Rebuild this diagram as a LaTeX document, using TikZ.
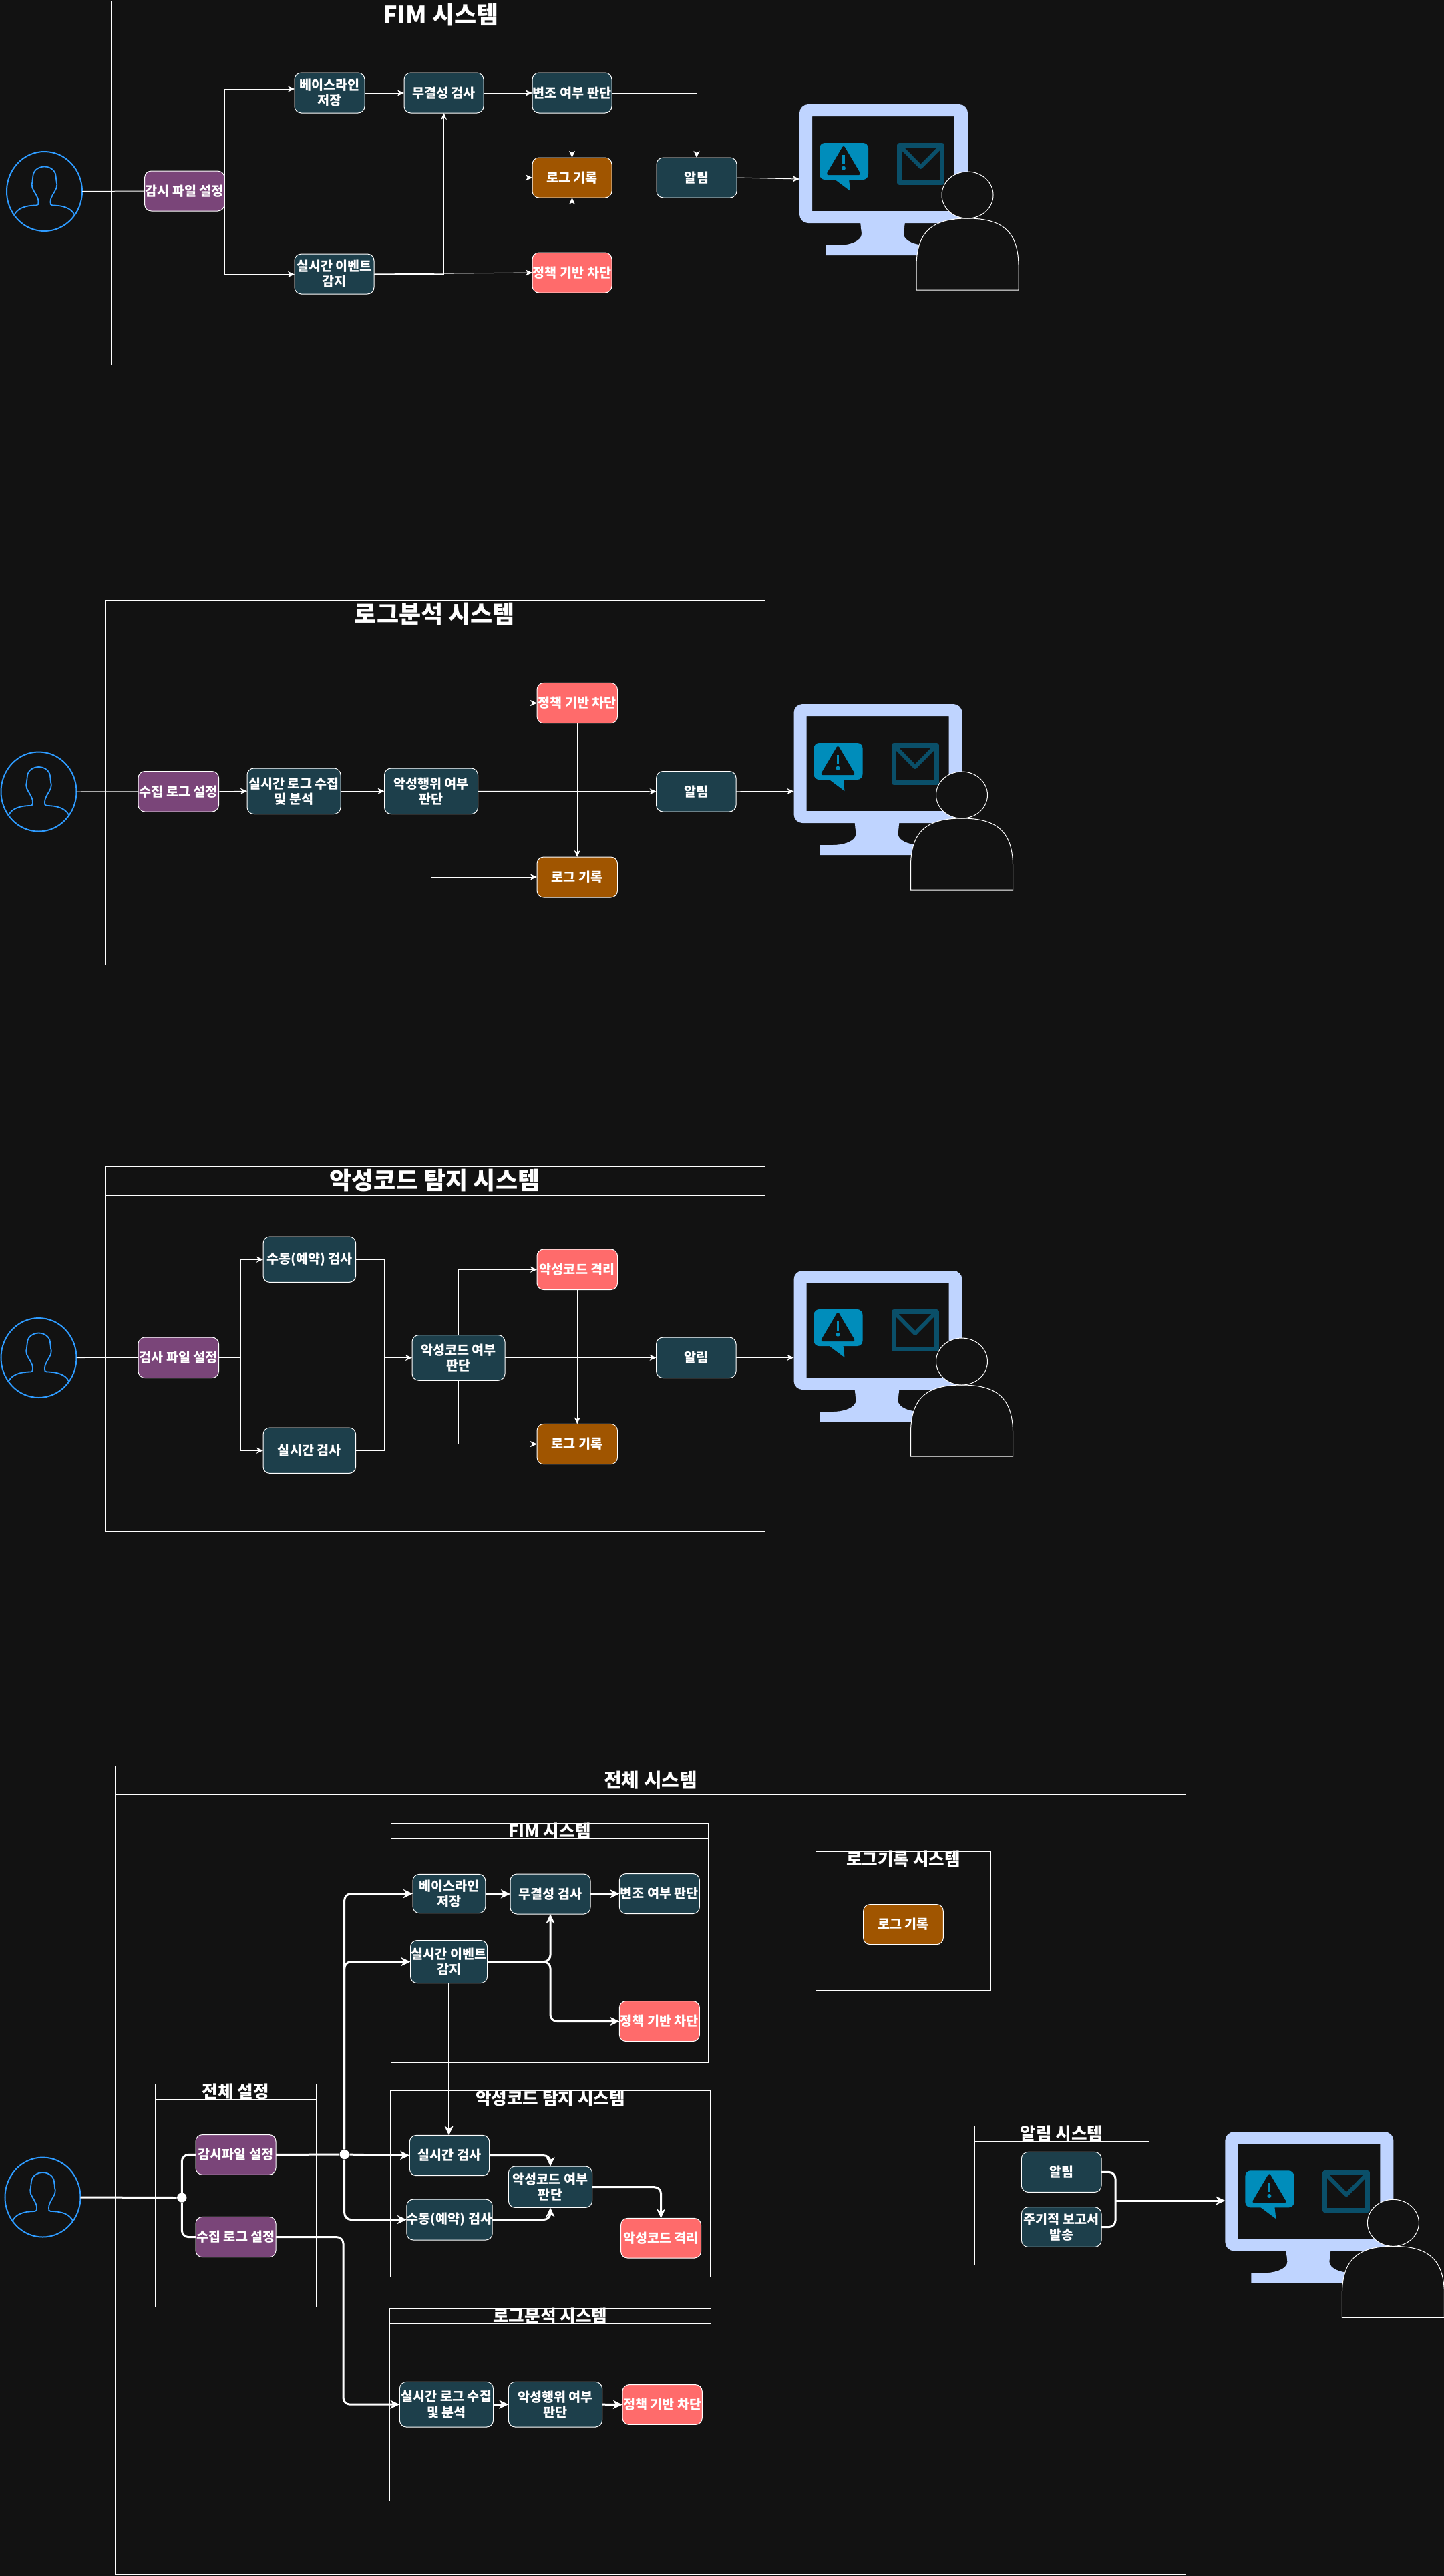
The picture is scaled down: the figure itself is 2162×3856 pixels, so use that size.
\documentclass[tikz,border=0pt]{standalone}
\usepackage{fontspec}
\setmainfont{Noto Sans CJK KR}
\usetikzlibrary{arrows.meta,shapes.geometric,calc}
\definecolor{bgc}{HTML}{121212}
\definecolor{tealc}{HTML}{1D3F4B}
\definecolor{purplec}{HTML}{7A4579}
\definecolor{orangec}{HTML}{A05500}
\definecolor{redc}{HTML}{FF6B6B}
\definecolor{monc}{HTML}{BFD4FF}
\definecolor{alertc}{HTML}{008DBB}
\definecolor{envc}{HTML}{0A4F69}
\definecolor{userc}{HTML}{2E9BFF}
\tikzset{
  bx/.style={draw=white,line width=0.5pt,rounded corners=5pt,inner sep=0pt,outer sep=0pt,text=white,align=center,font=\fontsize{9.8}{11.6}\selectfont\bfseries},
  tealbox/.style={bx,fill=tealc},
  purplebox/.style={bx,fill=purplec},
  orangebox/.style={bx,fill=orangec},
  redbox/.style={bx,fill=redc},
  frm/.style={draw=white,line width=0.45pt,inner sep=0pt,outer sep=0pt},
  bigt/.style={text=white,inner sep=0pt,font=\fontsize{18}{20}\selectfont\bfseries},
  midt/.style={text=white,inner sep=0pt,font=\fontsize{14.5}{16}\selectfont\bfseries},
  subt/.style={text=white,inner sep=0pt,font=\fontsize{12.8}{14}\selectfont\bfseries},
  flow/.style={draw=white,line width=0.5pt,-{Stealth[length=5pt,width=4.5pt,inset=1.4pt]}},
  plain/.style={draw=white,line width=0.5pt},
  flowb/.style={draw=white,line width=1.5pt,rounded corners=5pt,-{Stealth[length=7pt,width=6.5pt,inset=2pt]}},
  plainb/.style={draw=white,line width=1.5pt,rounded corners=5pt},
  dotn/.style={circle,fill=white,inner sep=0pt,minimum size=7.2pt},
  usern/.style={ellipse,draw=userc,line width=1pt,inner sep=0pt,outer sep=0pt,minimum width=56.5pt,minimum height=59.5pt},
}
\newcommand{\Bx}[7]{\node[#1,minimum width={(#5-#3)*0.5pt},minimum height={(#6-#4)*0.5pt}] (#2) at ({(#3+#5)/2},{(#4+#6)/2}) {#7};}
\newcommand{\Fr}[8]{%
  \node[frm,minimum width={(#5-#2)*0.5pt},minimum height={(#6-#3)*0.5pt}] (#1) at ({(#2+#5)/2},{(#3+#6)/2}) {};
  \draw[frm] (#2,#4) -- (#5,#4);
  \node[#7] (#1t) at ({(#2+#5)/2},{(#3+#4)/2}) {#8};}
\newcommand{\UserN}[3]{%
  \node[usern] (#1) at (#2,#3) {};
  \begin{scope}[shift={(#2,#3)}]
    \draw[userc,line width=0.9pt,line join=round]
      (-45,35) .. controls (-40,25) and (-28,21) .. (-12,21)
      .. controls (-9,21) and (-9,19) .. (-9,16)
      .. controls (-9,8) and (-15,2) .. (-18,-5)
      .. controls (-19,-8) and (-19,-12) .. (-18,-14)
      .. controls (-18,-18) and (-17,-21) .. (-17,-24)
      .. controls (-16,-32) and (-8,-37) .. (0,-37)
      .. controls (8,-37) and (16,-32) .. (17,-24)
      .. controls (17,-21) and (18,-18) .. (18,-14)
      .. controls (19,-12) and (19,-8) .. (18,-5)
      .. controls (15,2) and (9,8) .. (9,16)
      .. controls (9,19) and (9,21) .. (12,21)
      .. controls (28,21) and (40,25) .. (45,35);
  \end{scope}}
\newcommand{\Mon}[2]{%
  \begin{scope}[shift={(#1,#2)}]
    \fill[monc,even odd rule] [rounded corners=6.5pt] (0,0) rectangle (252,178) [sharp corners] (19,18) rectangle (232,160);
    \fill[monc] (91,176) -- (93,194) .. controls (93,205) and (75,211) .. (58,211) -- (39,211) -- (39,226) -- (210,226) -- (210,211) -- (191,211) .. controls (174,211) and (156,205) .. (156,194) -- (158,176) -- cycle;
    \fill[alertc,rounded corners=4pt] (30,58) rectangle (103,113);
    \fill[alertc] (52,112) -- (76,130) -- (74,112) -- cycle;
    \fill[bgc,draw=bgc,line width=2pt,line join=round] (66,65) -- (43,104) -- (89,104) -- cycle;
    \draw[alertc,line width=1.9pt] (66,76) -- (66,90);
    \fill[alertc] (66,95.7) circle (3);
    \draw[envc,line width=3.5pt,line join=round] (149.5,61.5) rectangle (213.5,117.5);
    \draw[envc,line width=3pt,line join=round] (150,62) -- (181.5,94) -- (213,62);
    \fill[bgc,draw=white,line width=0.5pt] (175,278) -- (175,240) .. controls (176,190) and (200,171) .. (251.5,171) .. controls (303,171) and (327,190) .. (328,240) -- (328,278) -- cycle;
    \fill[bgc,draw=white,line width=0.5pt] (251.5,136) ellipse (38.5 and 35);
  \end{scope}}
\begin{document}
\begin{tikzpicture}[x=0.5pt,y=-0.5pt]
\useasboundingbox (0,0) rectangle (2162,3856);
\fill[bgc] (0,0) rectangle (2162,3856);

% ===== FIM
\Fr{fa}{166}{1}{43}{1154}{546}{bigt}{FIM 시스템}
\UserN{ua}{66.5}{286.5}
\Bx{purplebox}{a1}{216.6}{256}{336}{316}{감시 파일 설정}
\Bx{tealbox}{a2}{441}{109}{546}{169}{베이스라인\\저장}
\Bx{tealbox}{a3}{605}{109}{724}{169}{무결성 검사}
\Bx{tealbox}{a4}{797}{109}{916}{169}{변조 여부 판단}
\Bx{orangebox}{a5}{797}{236}{916}{296}{로그 기록}
\Bx{tealbox}{a6}{983}{236}{1103}{296}{알림}
\Bx{tealbox}{a7}{441}{380}{560}{440}{실시간 이벤트\\감지}
\Bx{redbox}{a8}{797}{378}{916}{438}{정책 기반 차단}
\coordinate (a2in) at (441,133);
\coordinate (a7in) at (441,410.5);
\Mon{1197}{156}
\coordinate (ma) at (1197,268);
\draw[plain] (ua.east) -- (a1.west);
\draw[flow] (a1.east) |- (a2in);
\draw[flow] (a1.east) |- (a7in);
\draw[flow] (a2.east) -- (a3.west);
\draw[flow] (a3.east) -- (a4.west);
\draw[flow] (a4.south) -- (a5.north);
\draw[flow] (a4.east) -| (a6.north);
\draw[flow] (a7.east) -- (a8.west);
\draw[flow] (a7.east) -| (a3.south);
\draw[flow] (a3.south |- a5.west) -- (a5.west);
\draw[flow] (a8.north) -- (a5.south);
\draw[flow] (a6.east) -- (ma);

% ===== log analysis
\Fr{fb}{157}{898}{941}{1145}{1444.6}{bigt}{로그분석 시스템}
\UserN{ub}{58}{1185}
\Bx{purplebox}{b1}{207}{1154.5}{327.5}{1215}{수집 로그 설정}
\Bx{tealbox}{b2}{370}{1150}{510}{1218.5}{실시간 로그 수집\\및 분석}
\Bx{tealbox}{b3}{575.5}{1150}{715.5}{1218.5}{악성행위 여부\\판단}
\Bx{redbox}{b4}{804}{1022.4}{924.5}{1082.7}{정책 기반 차단}
\Bx{orangebox}{b5}{804}{1283}{924.5}{1343}{로그 기록}
\Bx{tealbox}{b6}{982.6}{1154.5}{1102}{1215}{알림}
\Mon{1188.5}{1054}
\coordinate (mb) at (1188.5,1184.5);
\draw[plain] (ub.east) -- (b1.west);
\draw[flow] (b1.east) -- (b2.west);
\draw[flow] (b2.east) -- (b3.west);
\draw[flow] (b3.east) -- (b6.west);
\draw[flow] (b3.north) |- (b4.west);
\draw[flow] (b3.south) |- (b5.west);
\draw[flow] (b4.south) -- (b5.north);
\draw[flow] (b6.east) -- (mb);

% ===== malware
\Fr{fc}{157}{1746}{1789}{1145}{2292}{bigt}{악성코드 탐지 시스템}
\UserN{uc}{58}{2032.5}
\Bx{purplebox}{c1}{207}{2002}{327.5}{2062.6}{검사 파일 설정}
\Bx{tealbox}{c2}{394}{1851}{532.6}{1919.4}{수동(예약) 검사}
\Bx{tealbox}{c3}{394}{2137}{532.6}{2205.4}{실시간 검사}
\Bx{tealbox}{c4}{617}{1998.6}{756}{2066.3}{악성코드 여부\\판단}
\Bx{redbox}{c5}{804}{1870}{924.5}{1930.5}{악성코드 격리}
\Bx{orangebox}{c6}{804}{2131.4}{924.5}{2191.7}{로그 기록}
\Bx{tealbox}{c7}{982.6}{2002}{1102}{2062.6}{알림}
\Mon{1188.5}{1902}
\coordinate (mc) at (1188.5,2032.3);
\coordinate (cl) at (360.5,2032.3);
\coordinate (cr) at (575,2032.4);
\draw[plain] (uc.east) -- (c1.west);
\draw[plain] (c1.east) -- (cl);
\draw[flow] (cl) |- (c2.west);
\draw[flow] (cl) |- (c3.west);
\draw[plain] (c2.east) -| (cr);
\draw[plain] (c3.east) -| (cr);
\draw[flow] (cr) -- (c4.west);
\draw[flow] (c4.east) -- (c7.west);
\draw[flow] (c4.north) |- (c5.west);
\draw[flow] (c4.south) |- (c6.west);
\draw[flow] (c5.south) -- (c6.north);
\draw[flow] (c7.east) -- (mc);

% ===== whole system
\Fr{fd}{172.6}{2643}{2686.5}{1775.5}{3853}{midt}{전체 시스템}
\Fr{fe}{585.8}{2729.4}{2752.2}{1060}{3087.4}{subt}{FIM 시스템}
\Fr{ff}{232.7}{3119.3}{3142.4}{473}{3453.4}{subt}{전체 설정}
\Fr{fg}{584.6}{3129.4}{3152}{1063.4}{3408}{subt}{악성코드 탐지 시스템}
\Fr{fh}{583.5}{3455.4}{3478.5}{1064}{3743.2}{subt}{로그분석 시스템}
\Fr{fi}{1221.5}{2771.5}{2794.3}{1483.4}{2979.5}{subt}{로그기록 시스템}
\Fr{fj}{1459}{3182.6}{3205.3}{1720}{3390}{subt}{알림 시스템}
\UserN{ud}{64}{3289}
\Bx{tealbox}{d1}{618}{2805.3}{726.8}{2863.7}{베이스라인\\저장}
\Bx{tealbox}{d2}{764}{2805}{884}{2865}{무결성 검사}
\Bx{tealbox}{d3}{927.4}{2804.5}{1047.4}{2864.5}{변조 여부 판단}
\Bx{tealbox}{d4}{614.5}{2904.5}{729.6}{2968.6}{실시간 이벤트\\감지}
\Bx{redbox}{d5}{927.4}{2995.5}{1047.4}{3055.5}{정책 기반 차단}
\Bx{purplebox}{e1}{293}{3195.5}{413}{3255.3}{감시파일 설정}
\Bx{purplebox}{e2}{293}{3318.4}{413}{3378.7}{수집 로그 설정}
\Bx{tealbox}{g1}{613.3}{3196.4}{732.7}{3256.7}{실시간 검사}
\Bx{tealbox}{g2}{610.5}{3292}{735.6}{3353}{수동(예약) 검사}
\Bx{tealbox}{g3}{761.4}{3243}{886.6}{3304.4}{악성코드 여부\\판단}
\Bx{redbox}{g4}{929.6}{3320.4}{1049.6}{3380}{악성코드 격리}
\Bx{tealbox}{h1}{598.4}{3565.3}{738.5}{3633}{실시간 로그 수집\\및 분석}
\Bx{tealbox}{h2}{761.4}{3565.3}{901.5}{3633}{악성행위 여부\\판단}
\Bx{redbox}{h3}{932}{3569.6}{1051.3}{3629.4}{정책 기반 차단}
\Bx{orangebox}{i1}{1292.6}{2850.5}{1412.3}{2910.6}{로그 기록}
\Bx{tealbox}{j1}{1529.4}{3221.3}{1649}{3281.4}{알림}
\Bx{tealbox}{j2}{1529.4}{3303.7}{1649}{3363.4}{주기적 보고서\\발송}
\Mon{1834.4}{3191.3}
\coordinate (md) at (1834.4,3294);
\coordinate (jn) at (1670,3294);
\coordinate (cv) at (514,3450);
\node[dotn] (p1) at (272.3,3289.5) {};
\node[dotn] (p2) at (515.7,3225) {};
\draw[plainb] (ud.east) -- (p1);
\draw[plainb] (p1) |- (e1.west);
\draw[plainb] (p1) |- (e2.west);
\draw[plainb] (e1.east) -- (p2);
\draw[flowb] (p2) -- (g1.west);
\draw[flowb] (p2) |- (d1.west);
\draw[flowb] (p2) |- (d4.west);
\draw[flowb] (p2) |- (g2.west);
\draw[flowb] (d1.east) -- (d2.west);
\draw[flowb] (d2.east) -- (d3.west);
\draw[flowb] (d4.east) -| (d2.south);
\draw[flowb] (d4.east) -| (d2.south |- d5.west) -- (d5.west);
\draw[flowb,line width=1.2pt] (d4.south) -- (d4.south |- g1.north);
\draw[flowb] (g1.east) -| (g3.north);
\draw[flowb] (g2.east) -| (g3.south);
\draw[flowb] (g3.east) -| (g4.north);
\draw[flowb] (e2.east) -| (cv) |- (h1.west);
\draw[flowb] (h1.east) -- (h2.west);
\draw[flowb] (h2.east) -- (h3.west);
\draw[plainb] (j1.east) -| (jn);
\draw[plainb] (j2.east) -| (jn);
\draw[flowb] (jn) -- (md);
\end{tikzpicture}
\end{document}
